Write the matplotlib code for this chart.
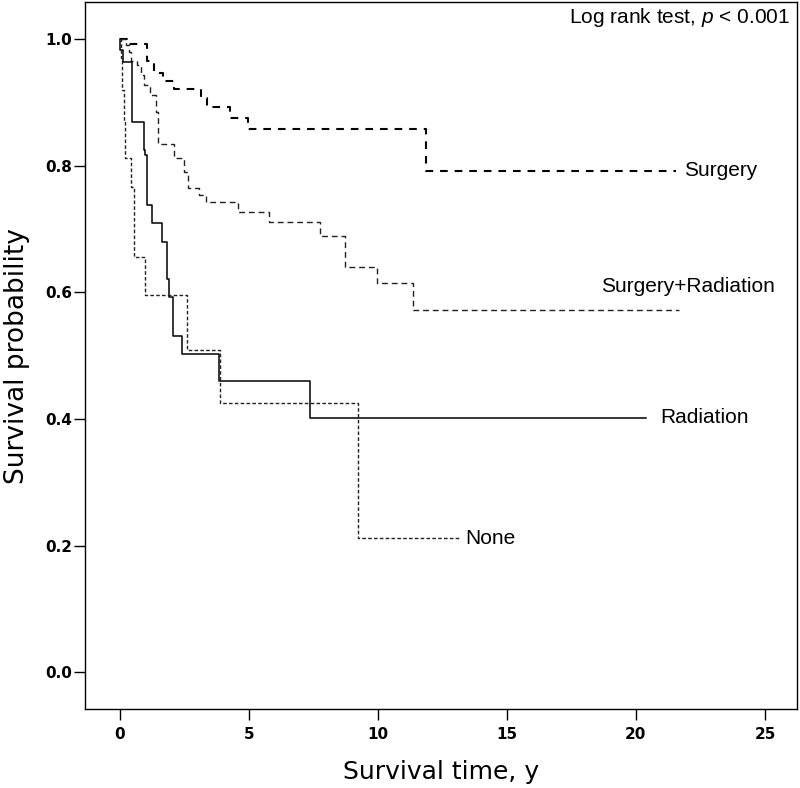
import matplotlib
matplotlib.use("Agg")
import matplotlib.pyplot as plt

# ---- data ----
surgery_t = [0, 0.40, 1.05, 1.32, 1.67, 2.10, 3.14, 3.37, 4.26, 4.96, 11.86, 21.55]
surgery_s = [1.0, 0.992, 0.965, 0.946, 0.934, 0.922, 0.907, 0.893, 0.875, 0.858, 0.792, 0.792]

sr_t = [0, 0.23, 0.35, 0.43, 0.66, 0.81, 0.93, 1.16, 1.40, 1.47, 2.09, 2.48, 2.64, 3.06,
        3.33, 4.57, 5.80, 7.75, 8.72, 9.96, 11.36, 21.65]
sr_s = [1.0, 0.99, 0.979, 0.966, 0.959, 0.943, 0.927, 0.912, 0.885, 0.834, 0.812, 0.790,
        0.765, 0.754, 0.743, 0.727, 0.711, 0.689, 0.640, 0.615, 0.572, 0.572]

rad_t = [0, 0.03, 0.12, 0.49, 0.93, 1.00, 1.08, 1.24, 1.66, 1.82, 1.90, 2.05, 2.40, 3.84, 7.36, 20.4]
rad_s = [1.0, 0.983, 0.964, 0.869, 0.825, 0.817, 0.738, 0.710, 0.680, 0.621, 0.593, 0.531,
         0.503, 0.460, 0.402, 0.402]

none_t = [0, 0.04, 0.10, 0.16, 0.22, 0.43, 0.54, 1.00, 2.60, 3.88, 9.22, 13.2]
none_s = [1.0, 0.97, 0.92, 0.87, 0.813, 0.766, 0.656, 0.596, 0.509, 0.425, 0.212, 0.212]

group_names = ["Surgery", "Surgery+Radiation", "Radiation", "None"]
x_ticks = [0, 5, 10, 15, 20, 25]
y_ticks = [0.0, 0.2, 0.4, 0.6, 0.8, 1.0]

plt.rcParams['lines.scale_dashes'] = False
plt.rcParams['mathtext.fontset'] = 'custom'
plt.rcParams['mathtext.rm'] = 'Liberation Sans'
plt.rcParams['mathtext.it'] = 'Liberation Sans:italic'

fig = plt.figure(figsize=(8.0, 7.88), dpi=100)
ax = fig.add_axes([0.10625, 0.1003, 0.89, 0.8966])

ax.step(surgery_t, surgery_s, where='post', color='black', lw=1.5, linestyle=(0, (5.5, 5.0)))
ax.step(sr_t, sr_s, where='post', color='#222222', lw=1.0, linestyle=(0, (4.2, 2.8)))
ax.step(rad_t, rad_s, where='post', color='black', lw=1.1, linestyle='-')
ax.step(none_t, none_s, where='post', color='#222222', lw=1.0, linestyle=(0, (2.6, 1.6)))

lab_kw = dict(fontsize=15, family='Liberation Sans', ha='left', va='center', color='black')
ax.text(21.85, 0.792, group_names[0], **lab_kw)
ax.text(18.64, 0.609, group_names[1], **lab_kw)
ax.text(20.93, 0.402, group_names[2], **lab_kw)
ax.text(13.40, 0.212, group_names[3], **lab_kw)

ax.text(0.990, 0.979, r"Log rank test, $\mathit{p}$ < 0.001", transform=ax.transAxes,
        ha='right', va='center', fontsize=15, family='Liberation Sans')

ax.set_xlim(-1.34, 26.24)
ax.set_ylim(-0.058, 1.058)
ax.set_xticks(x_ticks)
ax.set_xticklabels([str(v) for v in x_ticks], fontsize=11, fontweight='bold')
ax.set_yticks(y_ticks)
ax.set_yticklabels([f"{v:.1f}" for v in y_ticks], fontsize=11, fontweight='bold')
ax.tick_params(axis='x', direction='out', length=8, width=1.0, pad=5)
ax.tick_params(axis='y', direction='out', length=8, width=1.0, pad=1)
for sp in ax.spines.values():
    sp.set_linewidth(1.0)
    sp.set_color('black')

ax.set_xlabel("Survival time, y", fontsize=18, labelpad=13)
ax.set_ylabel("Survival probability", fontsize=19, labelpad=11)

fig.savefig("out.png", dpi=100)
